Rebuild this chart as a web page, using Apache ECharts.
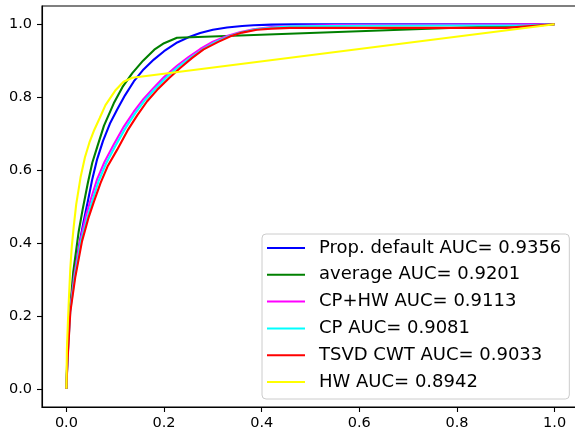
<!DOCTYPE html>
<html>
<head>
<meta charset="utf-8">
<script src="https://cdn.jsdelivr.net/npm/echarts@6/dist/echarts.min.js"></script>
<style>html,body{margin:0;padding:0;background:#fff;}#chart{width:575px;height:434px;}</style>
</head>
<body>
<div id="chart"></div>
<script>
const xTicks = [0, 0.2, 0.4, 0.6, 0.8, 1.0];
const xTickLabels = ['0.0', '0.2', '0.4', '0.6', '0.8', '1.0'];
const yTicks = [0, 0.2, 0.4, 0.6, 0.8, 1.0];
const yTickLabels = ['0.0', '0.2', '0.4', '0.6', '0.8', '1.0'];

const seriesNames = [
  'Prop. default AUC= 0.9356',
  'average AUC= 0.9201',
  'CP+HW AUC= 0.9113',
  'CP AUC= 0.9081',
  'TSVD CWT AUC= 0.9033',
  'HW AUC= 0.8942'
];
const seriesColors = ['#0000ff', '#008000', '#ff00ff', '#00ffff', '#ff0000', '#ffff00'];

const propDefault = [[0,0],[0.002,0.08],[0.004,0.16],[0.007,0.21],[0.010,0.25],[0.015,0.30],[0.022,0.36],[0.029,0.415],[0.036,0.464],[0.044,0.515],[0.053,0.575],[0.063,0.63],[0.075,0.68],[0.09,0.73],[0.104,0.766],[0.12,0.805],[0.138,0.843],[0.158,0.876],[0.179,0.903],[0.2,0.926],[0.227,0.95],[0.25,0.964],[0.274,0.976],[0.30,0.985],[0.329,0.991],[0.36,0.995],[0.383,0.997],[0.42,0.999],[0.47,1],[1,1]];
const average = [[0,0],[0.002,0.1],[0.005,0.18],[0.0096,0.25],[0.014,0.32],[0.019,0.37],[0.025,0.43],[0.033,0.49],[0.044,0.565],[0.053,0.62],[0.063,0.663],[0.077,0.722],[0.097,0.783],[0.115,0.828],[0.135,0.866],[0.157,0.9],[0.18,0.93],[0.2,0.948],[0.2265,0.963],[1,1]];
const cpHw = [[0,0],[0.002,0.08],[0.005,0.15],[0.008,0.22],[0.016,0.31],[0.028,0.405],[0.04,0.475],[0.05,0.52],[0.063,0.575],[0.078,0.622],[0.097,0.67],[0.118,0.72],[0.138,0.76],[0.158,0.795],[0.179,0.826],[0.2,0.855],[0.2265,0.886],[0.25,0.91],[0.274,0.932],[0.3,0.952],[0.329,0.968],[0.355,0.978],[0.383,0.986],[0.42,0.992],[0.458,0.995],[0.55,0.998],[1,1]];
const cp = [[0,0],[0.002,0.075],[0.005,0.145],[0.008,0.215],[0.017,0.306],[0.03,0.405],[0.043,0.47],[0.053,0.515],[0.066,0.57],[0.081,0.617],[0.1,0.665],[0.121,0.715],[0.141,0.756],[0.161,0.792],[0.182,0.823],[0.204,0.853],[0.23,0.884],[0.254,0.908],[0.278,0.93],[0.304,0.95],[0.333,0.967],[0.36,0.978],[0.388,0.986],[0.425,0.991],[0.46,0.994],[0.6,0.996],[0.95,0.997],[1,1]];
const tsvdCwt = [[0,0],[0.002,0.07],[0.005,0.14],[0.008,0.21],[0.018,0.305],[0.032,0.405],[0.045,0.468],[0.056,0.512],[0.07,0.565],[0.085,0.612],[0.104,0.656],[0.125,0.708],[0.145,0.75],[0.165,0.788],[0.186,0.82],[0.21,0.852],[0.233,0.88],[0.257,0.907],[0.281,0.931],[0.31,0.951],[0.336,0.967],[0.36,0.977],[0.39,0.985],[0.42,0.988],[0.458,0.99],[0.9,0.99],[1,1]];
const hw = [[0,0],[0.001,0.107],[0.003,0.18],[0.005,0.244],[0.008,0.33],[0.011,0.39],[0.015,0.445],[0.02,0.505],[0.029,0.58],[0.038,0.635],[0.047,0.675],[0.057,0.71],[0.068,0.742],[0.08,0.778],[0.10,0.818],[0.117,0.842],[0.135,0.853],[1,1]];

const seriesData = [propDefault, average, cpHw, cp, tsvdCwt, hw];

const FONT = 'DejaVu Sans';
const chart = echarts.init(document.getElementById('chart'), null, {renderer: 'canvas'});

function fmt(values, labels) {
  return function (v) {
    for (let i = 0; i < values.length; i++) {
      if (Math.abs(values[i] - v) < 1e-9) return labels[i];
    }
    return '';
  };
}

chart.setOption({
  animation: false,
  backgroundColor: '#ffffff',
  grid: {
    left: 42, top: 6, width: 537, height: 401,
    outerBoundsMode: 'none', containLabel: false,
    show: true, borderColor: '#000', borderWidth: 1.1, backgroundColor: 'transparent'
  },
  xAxis: {
    type: 'value', min: -0.05, max: 1.05,
    axisLine: {show: true, onZero: false, lineStyle: {color: '#000', width: 1.1}},
    axisTick: {show: true, length: 5, customValues: xTicks, lineStyle: {color: '#000', width: 1.1}},
    axisLabel: {customValues: xTicks, formatter: fmt(xTicks, xTickLabels), color: '#000', fontSize: 14.5, fontFamily: FONT, margin: 9},
    splitLine: {show: false}
  },
  yAxis: {
    type: 'value', min: -0.05, max: 1.05,
    axisLine: {show: true, onZero: false, lineStyle: {color: '#000', width: 1.1}},
    axisTick: {show: true, length: 5, customValues: yTicks, lineStyle: {color: '#000', width: 1.1}},
    axisLabel: {customValues: yTicks, formatter: fmt(yTicks, yTickLabels), color: '#000', fontSize: 14.5, fontFamily: FONT, margin: 10},
    splitLine: {show: false}
  },
  legend: {
    orient: 'vertical', left: 262, top: 234,
    itemWidth: 38, itemHeight: 2, icon: 'rect', itemGap: 8.8,
    selectedMode: false,
    padding: [5, 8, 8, 5],
    borderColor: '#cccccc', borderWidth: 1, borderRadius: 4,
    backgroundColor: 'rgba(255,255,255,0.8)',
    textStyle: {fontSize: 18, lineHeight: 18, fontFamily: FONT, color: '#000', padding: [0, 0, 0, 9]},
    data: seriesNames
  },
  series: seriesData.map((d, i) => ({
    name: seriesNames[i],
    type: 'line',
    data: d,
    showSymbol: false,
    symbol: 'none',
    color: seriesColors[i],
    lineStyle: {color: seriesColors[i], width: 2.1},
    itemStyle: {color: seriesColors[i]}
  }))
});
</script>
</body>
</html>
